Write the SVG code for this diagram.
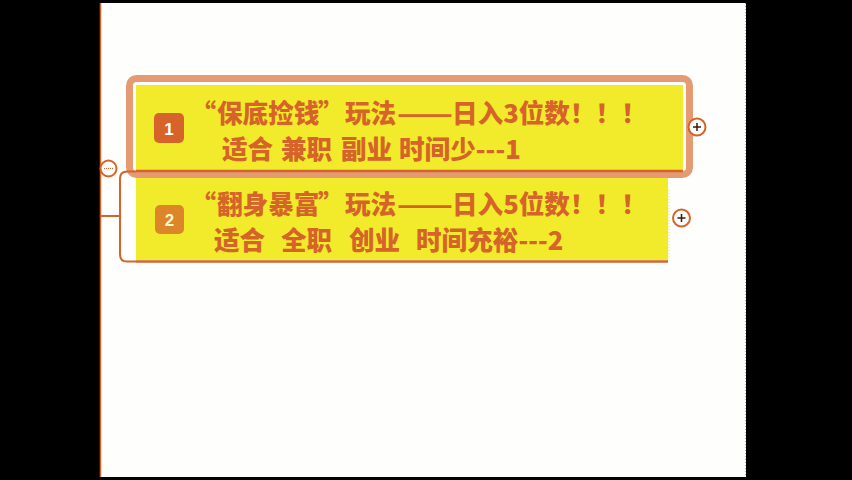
<svg xmlns="http://www.w3.org/2000/svg" width="852" height="480" viewBox="0 0 852 480">
<style>
.t{font-family:"Noto Sans CJK SC","Noto Sans",sans-serif;font-weight:900;font-size:25.6px;fill:#D6642A}
.q{text-anchor:end}
.bg{fill:#F2EB2B}
.ln{stroke:#D6642A;fill:none}
.num{font-family:"Liberation Sans","DejaVu Sans",sans-serif;font-weight:700;font-size:17px;text-anchor:middle}
</style>
<rect x="0" y="0" width="852" height="480" fill="#000"/>
<rect x="100" y="3" width="646" height="474" fill="#FEFEFC"/>
<line x1="100.5" y1="3" x2="100.5" y2="477" stroke="#D6642A" stroke-width="1.5"/>
<line x1="745.5" y1="3" x2="745.5" y2="477" stroke="#A06040" stroke-width="1" stroke-dasharray="1 2" opacity="0.6"/>

<g id="connectors">
<path class="ln" stroke-width="2" d="M136,171.5 H127 Q120,171.5 120,178.5 V254.5 Q120,261.5 127,261.5 H136"/>
<line class="ln" stroke-width="2" x1="101" y1="216" x2="120" y2="216"/>
<circle cx="108.5" cy="168.5" r="8" fill="#FEFEFC" stroke="#D6642A" stroke-width="2"/>
<line x1="104" y1="168.5" x2="113" y2="168.5" stroke="#D6642A" stroke-width="1" stroke-dasharray="1 1"/>
</g>

<g id="node1">
<rect x="129.5" y="78.5" width="560" height="96" rx="7" fill="none" stroke="#D6642A" stroke-width="7" opacity="0.65"/>
<rect class="bg" x="136" y="85" width="547" height="85"/>
<line class="ln" stroke-width="2.5" x1="136" y1="171" x2="683" y2="171"/>
<rect x="154" y="113" width="30" height="30" rx="5" fill="#D6642A"/>
<text class="num" x="169" y="134.5" fill="#FFFFFF">1</text>
<text class="t q" x="216" y="123">“</text>
<text class="t" y="123"><tspan x="217">保底捡钱</tspan><tspan x="318">”</tspan><tspan x="345">玩法</tspan></text>
<text class="t" x="397" y="123" textLength="56" lengthAdjust="spacingAndGlyphs">——</text>
<text class="t" x="452" y="123">日入3位数！！！</text>
<text class="t" y="159"><tspan x="222">适合</tspan><tspan x="281">兼职</tspan><tspan x="341">副业</tspan><tspan x="399">时间少---1</tspan></text>
<circle cx="697" cy="127" r="8.5" fill="#FEFEFC" stroke="#D6642A" stroke-width="2"/>
<path d="M693,127 H701 M697,123 V131" stroke="#3A1A0A" stroke-width="1.5"/>
</g>

<g id="node2">
<rect class="bg" x="136" y="178" width="532" height="82"/>
<line class="ln" stroke-width="2.5" x1="136" y1="261.5" x2="668" y2="261.5"/>
<line x1="669" y1="190" x2="669" y2="258" stroke="#F2EB2B" stroke-width="1" stroke-dasharray="1 2"/>
<rect x="155" y="205" width="29" height="29" rx="5" fill="#D6642A" opacity="0.75"/>
<text class="num" x="169.5" y="226" fill="#FFF9C8">2</text>
<text class="t q" x="216" y="214">“</text>
<text class="t" y="214"><tspan x="217">翻身暴富</tspan><tspan x="318">”</tspan><tspan x="345">玩法</tspan></text>
<text class="t" x="397" y="214" textLength="56" lengthAdjust="spacingAndGlyphs">——</text>
<text class="t" x="452" y="214">日入5位数！！！</text>
<text class="t" y="250"><tspan x="214">适合</tspan><tspan x="281">全职</tspan><tspan x="349">创业</tspan><tspan x="416">时间充裕---2</tspan></text>
<circle cx="681.5" cy="218" r="8.5" fill="#FEFEFC" stroke="#D6642A" stroke-width="2"/>
<path d="M677.5,218 H685.5 M681.5,214 V222" stroke="#3A1A0A" stroke-width="1.5"/>
</g>
</svg>
